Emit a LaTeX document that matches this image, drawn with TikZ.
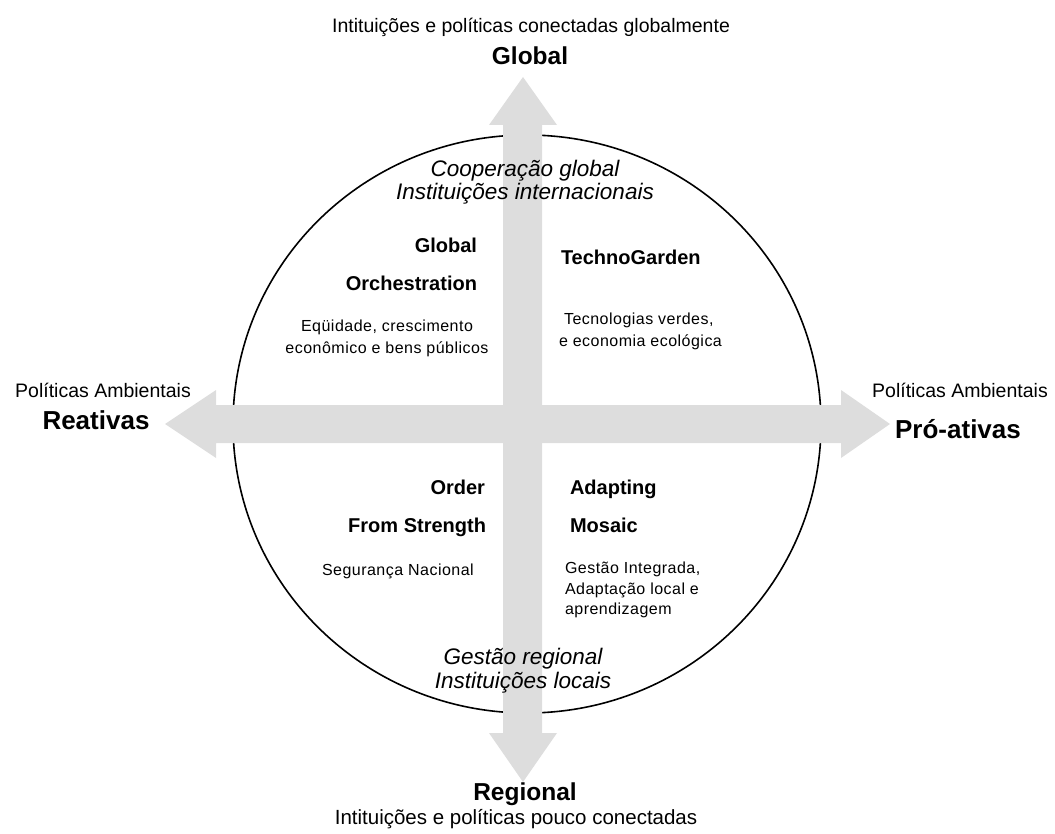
\documentclass[tikz,border=0pt]{standalone}
\usepackage{fontspec}
\setmainfont{Liberation Sans}
\definecolor{arrowgray}{RGB}{221,221,221}
\begin{document}
\begin{tikzpicture}[x=1pt,y=-1pt,
  every node/.style={inner sep=0pt,outer sep=0pt},
  axislbl/.style={font=\fontsize{19.5}{23}\selectfont},
  axisbold/.style={font=\bfseries\fontsize{24.5}{28}\selectfont},
  sidebold/.style={font=\bfseries\fontsize{26}{30}\selectfont},
  scentitle/.style={font=\bfseries\fontsize{20}{24}\selectfont},
  scendesc/.style={font=\fontsize{16}{20}\selectfont\addfontfeature{LetterSpace=3}},
  axisital/.style={font=\itshape\fontsize{22.5}{26}\selectfont},
  bigarrow/.style={fill=arrowgray,draw=none}
]
\useasboundingbox (0,0) rectangle (1055,834);
% circle
\draw[line width=1.6pt] (527,424) ellipse [x radius=294, y radius=289];
% horizontal double arrow
\coordinate (ltip) at (165,424);
\coordinate (rtip) at (890,424);
\fill[bigarrow] (ltip) -- (216,390) -- (216,405) -- (841,405) -- (841,390) -- (rtip)
  -- (841,458) -- (841,443) -- (216,443) -- (216,458) -- cycle;
% vertical double arrow
\coordinate (ttip) at (523,77);
\coordinate (btip) at (523,782);
\fill[bigarrow] (ttip) -- (557,125) -- (542,125) -- (542,733) -- (557,733) -- (btip)
  -- (489,733) -- (503,733) -- (503,125) -- (489,125) -- cycle;
% axis labels
\node[axislbl,anchor=base] (toptxt) at (531,33) {Intituições e políticas conectadas globalmente};
\node[axisbold,anchor=base] (global) at (530,65) {Global};
\node[axislbl,anchor=base] (polL) at (103,397) {Políticas Ambientais};
\node[sidebold,anchor=base] (reat) at (96,429) {Reativas};
\node[axislbl,anchor=base] (polR) at (960,397) {Políticas Ambientais};
\node[sidebold,anchor=base] (proat) at (958,438) {Pró-ativas};
\node[axisbold,anchor=base] (regional) at (525,800) {Regional};
\node[font=\fontsize{20.5}{24}\selectfont,anchor=base] (bottxt) at (516,824) {Intituições e políticas pouco conectadas};
% italic axis descriptions
\node[axisital,anchor=base] (coop) at (525,177) {Cooperação global};
\node[axisital,anchor=base] (instint) at (525,200) {Instituições internacionais};
\node[axisital,anchor=base] (gestreg) at (523,664) {Gestão regional};
\node[axisital,anchor=base] (instloc) at (523,688) {Instituições locais};
% scenarios
\node[scentitle,anchor=base east] (go1) at (477,253) {Global};
\node[scentitle,anchor=base east] (go2) at (477,291) {Orchestration};
\node[scendesc,anchor=base] (go3) at (387,331) {Eqüidade, crescimento};
\node[scendesc,anchor=base] (go4) at (387,353) {econômico e bens públicos};
\node[scentitle,anchor=base west] (tg1) at (561,265) {TechnoGarden};
\node[scendesc,anchor=base west] (tg2) at (564,325) {Tecnologias verdes,};
\node[scendesc,anchor=base west] (tg3) at (559,346) {e economia ecológica};
\node[scentitle,anchor=base east] (os1) at (485,494) {Order};
\node[scentitle,anchor=base east] (os2) at (486,532) {From Strength};
\node[scendesc,anchor=base west] (os3) at (322,575) {Segurança Nacional};
\node[scentitle,anchor=base west] (am1) at (570,494) {Adapting};
\node[scentitle,anchor=base west] (am2) at (570,532) {Mosaic};
\node[scendesc,anchor=base west] (am3) at (565,573) {Gestão Integrada,};
\node[scendesc,anchor=base west] (am4) at (565,594) {Adaptação local e};
\node[scendesc,anchor=base west] (am5) at (565,614) {aprendizagem};
\end{tikzpicture}
\end{document}
